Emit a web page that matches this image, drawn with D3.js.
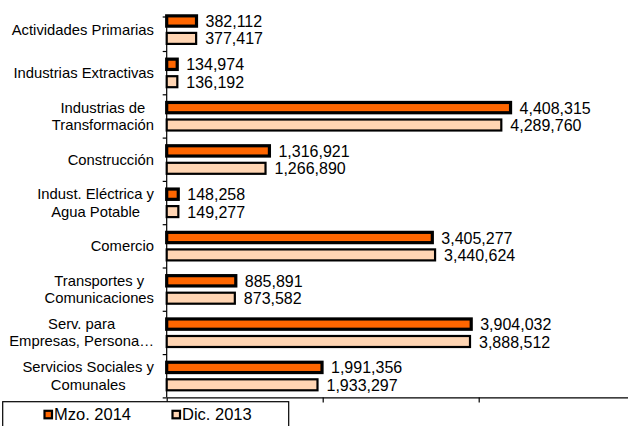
<!DOCTYPE html>
<html>
<head>
<meta charset="utf-8">
<script src="https://cdn.jsdelivr.net/npm/d3@7"></script>
<style>
  html, body { margin: 0; padding: 0; background: #fff; }
  svg { display: block; }
  text { font-family: "Liberation Sans", Arimo, Arial, Helvetica, sans-serif; fill: #000; }
</style>
</head>
<body>
<svg id="chart" width="628" height="426"></svg>
<script>
// ---- data ----
const categories = [
  "Actividades Primarias",
  "Industrias Extractivas",
  "Industrias de|Transformación",
  "Construcción",
  "Indust. Eléctrica y|Agua Potable",
  "Comercio",
  "Transportes y|Comunicaciones",
  "Serv. para|Empresas, Persona…",
  "Servicios Sociales y|Comunales"
];
const seriesNames = ["Mzo. 2014", "Dic. 2013"];
const mzo2014 = [382112, 134974, 4408315, 1316921, 148258, 3405277, 885891, 3904032, 1991356];
const dic2013 = [377417, 136192, 4289760, 1266890, 149277, 3440624, 873582, 3888512, 1933297];
const xTickValues = [0, 2000000, 4000000, 6000000];

// ---- styles ----
const fills = ["#FF6600", "#FFD5B3"];
const strokeW = [3.2, 2.2];
const barH = [10.3, 11];

const svg = d3.select("#chart");
const fmt = d3.format(",");

const x = d3.scaleLinear().domain([0, 6000000]).range([166.7, 634.7]);
const y = d3.scaleBand().domain(d3.range(categories.length)).range([7.7, 397.4]).padding(0);
const yIdx = d3.scaleLinear().domain([0, categories.length]).range([7.7, 397.4]);
const ySub = d3.scaleBand().domain(seriesNames).range([4.6, 39.4]).padding(0);

const values = [mzo2014, dic2013];

// bottom axis
const xAxis = d3.axisBottom(x).tickValues(xTickValues).tickSize(5).tickSizeOuter(0).tickFormat("");
const gx = svg.append("g").attr("transform", `translate(0,${y.range()[1]})`).call(xAxis);
gx.selectAll("path,line").attr("stroke", "#000").attr("stroke-width", 1.2);

// left axis (category boundaries)
const yAxis = d3.axisLeft(yIdx).tickValues(d3.range(1, categories.length + 1)).tickSize(4).tickFormat("");
const gy = svg.append("g").attr("transform", `translate(${x(0)},0)`).call(yAxis);
gy.select(".domain").remove();
gy.selectAll("line").attr("stroke", "#000").attr("stroke-width", 1.2);
const axisTop = 17;
gy.append("line").attr("x1", 0).attr("x2", 0).attr("y1", axisTop).attr("y2", y.range()[1])
  .attr("stroke", "#000").attr("stroke-width", 1.2);
gy.append("line").attr("x1", -4).attr("x2", 0).attr("y1", axisTop).attr("y2", axisTop)
  .attr("stroke", "#000").attr("stroke-width", 1.2);

// bars
seriesNames.forEach((s, si) => {
  const g = svg.append("g");
  g.selectAll("rect").data(values[si]).join("rect")
    .attr("x", x(0))
    .attr("y", (d, i) => y(i) + ySub(s) + ySub.bandwidth() / 2 - barH[si] / 2)
    .attr("width", d => x(d) - x(0))
    .attr("height", barH[si])
    .attr("fill", fills[si])
    .attr("stroke", "#000")
    .attr("stroke-width", strokeW[si]);
  g.selectAll("text").data(values[si]).join("text")
    .attr("x", d => x(d) + 9)
    .attr("y", (d, i) => y(i) + ySub(s) + ySub.bandwidth() / 2)
    .attr("dy", "0.38em")
    .attr("font-size", 16)
    .text(d => fmt(d));
});

// category labels: block right-aligned, lines centered
const labelRight = 154;
const lineH = 17.3;
categories.forEach((c, i) => {
  const lines = c.split("|");
  const g = svg.append("g");
  const cy = y(i) + y.bandwidth() / 2;
  const texts = lines.map((ln, li) =>
    g.append("text")
      .attr("font-size", 14.8)
      .attr("y", cy + (li - (lines.length - 1) / 2) * lineH)
      .attr("dy", "0.36em")
      .text(ln));
  const widths = texts.map(t => t.node().getComputedTextLength());
  const maxW = d3.max(widths);
  const center = labelRight - maxW / 2;
  texts.forEach(t => t.attr("x", center).attr("text-anchor", "middle"));
});

// legend
const lg = svg.append("g");
lg.append("rect").attr("x", 2.7).attr("y", 401.7).attr("width", 286).attr("height", 40)
  .attr("fill", "#fff").attr("stroke", "#000").attr("stroke-width", 1.2);
const legendX = [44.5, 172.5];
seriesNames.forEach((s, si) => {
  lg.append("rect").attr("x", legendX[si]).attr("y", 410.8).attr("width", 7.5).attr("height", 7.5)
    .attr("fill", fills[si]).attr("stroke", "#000").attr("stroke-width", 2.2);
  lg.append("text").attr("x", legendX[si] + 9.5).attr("y", 419.5)
    .attr("font-size", 16.5).text(s);
});
</script>
</body>
</html>
